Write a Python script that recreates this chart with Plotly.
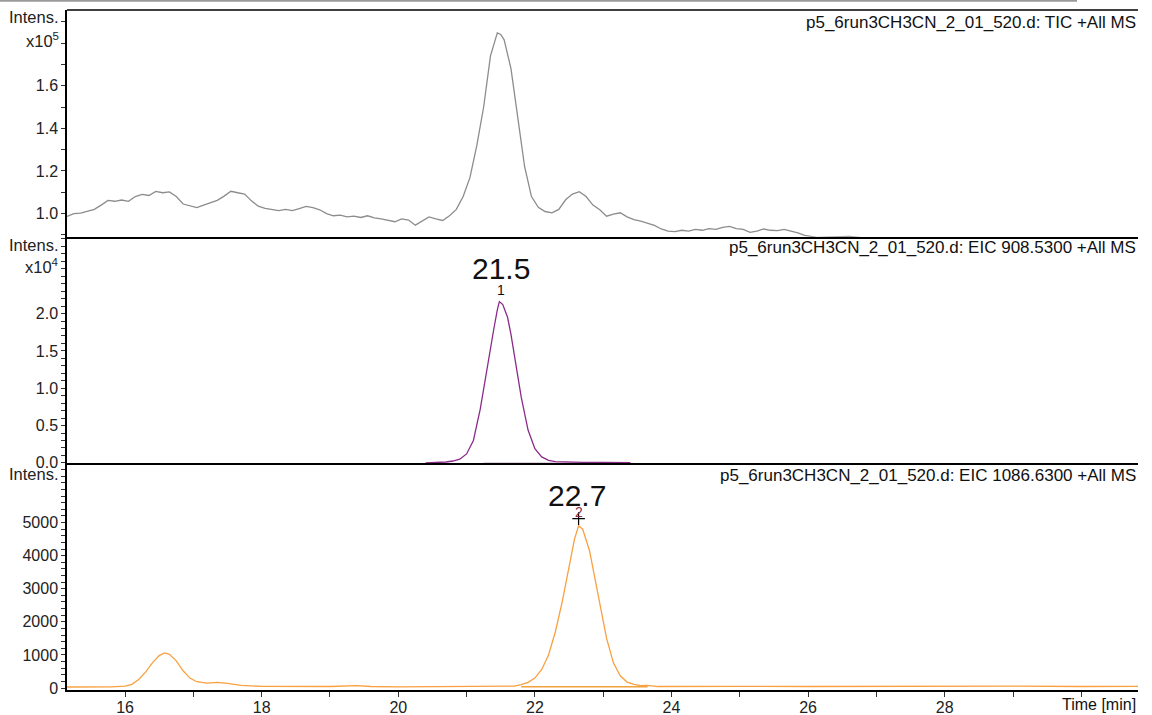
import plotly.graph_objects as go
from plotly.subplots import make_subplots

# ---------------- data ----------------
tic_time = [15.15, 15.25, 15.35, 15.45, 15.55, 15.65, 15.75, 15.85, 15.95, 16.05, 16.15, 16.25, 16.35, 16.45,
            16.55, 16.65, 16.75, 16.85, 16.95, 17.05, 17.15, 17.25, 17.35, 17.45, 17.55, 17.65, 17.75, 17.85,
            17.95, 18.05, 18.15, 18.25, 18.35, 18.45, 18.55, 18.65, 18.75, 18.85, 18.95, 19.05, 19.15, 19.25,
            19.35, 19.45, 19.55, 19.65, 19.75, 19.85, 19.95, 20.05, 20.15, 20.25, 20.35, 20.45, 20.55, 20.65,
            20.75, 20.85, 20.95, 21.05, 21.15, 21.25, 21.35, 21.45, 21.50, 21.55, 21.65, 21.75, 21.85, 21.95,
            22.05, 22.15, 22.25, 22.35, 22.45, 22.55, 22.65, 22.75, 22.85, 22.95, 23.05, 23.15, 23.25, 23.35,
            23.45, 23.55, 23.65, 23.75, 23.85, 23.95, 24.05, 24.15, 24.25, 24.35, 24.45, 24.55, 24.65, 24.75,
            24.85, 24.95, 25.05, 25.15, 25.25, 25.35, 25.45, 25.55, 25.65, 25.75, 25.85, 25.95, 26.05, 26.15,
            26.6, 26.8, 27.0, 31.0]
tic_intens = [0.987, 1.000, 1.002, 1.012, 1.020, 1.040, 1.062, 1.058, 1.064, 1.058, 1.080, 1.090, 1.085, 1.104,
              1.098, 1.102, 1.080, 1.045, 1.035, 1.028, 1.040, 1.052, 1.062, 1.082, 1.105, 1.098, 1.092, 1.060,
              1.035, 1.025, 1.018, 1.014, 1.020, 1.014, 1.024, 1.034, 1.028, 1.018, 1.000, 0.990, 0.993, 0.985,
              0.988, 0.982, 0.990, 0.980, 0.975, 0.968, 0.962, 0.975, 0.970, 0.946, 0.965, 0.985, 0.975, 0.968,
              0.990, 1.020, 1.080, 1.170, 1.320, 1.500, 1.740, 1.848, 1.840, 1.815, 1.680, 1.460, 1.220, 1.080,
              1.030, 1.010, 1.004, 1.020, 1.065, 1.092, 1.103, 1.080, 1.040, 1.018, 0.988, 0.998, 1.004, 0.985,
              0.972, 0.965, 0.955, 0.945, 0.928, 0.918, 0.916, 0.922, 0.918, 0.926, 0.922, 0.930, 0.926, 0.936,
              0.940, 0.930, 0.926, 0.912, 0.918, 0.928, 0.922, 0.920, 0.926, 0.918, 0.910, 0.898, 0.893, 0.888,
              0.893, 0.888, 0.880, 0.880]

eic1_time = [20.4, 20.5, 20.7, 20.8, 20.9, 21.0, 21.1, 21.2, 21.25, 21.3, 21.4, 21.45, 21.48, 21.53,
             21.6, 21.65, 21.7, 21.8, 21.9, 22.0, 22.1, 22.2, 22.3, 22.5, 22.7, 23.0, 23.3, 23.4]
eic1_intens = [0.0, 0.003, 0.012, 0.025, 0.05, 0.12, 0.30, 0.72, 1.00, 1.28, 1.80, 2.05, 2.16, 2.12,
               1.95, 1.72, 1.42, 0.88, 0.44, 0.19, 0.08, 0.035, 0.018, 0.010, 0.008, 0.006, 0.010, 0.004]
eic1_base_time = [21.25, 22.8]
eic1_base_intens = [-0.004, -0.004]

eic2_time = [15.15, 15.5, 15.8, 16.0, 16.1, 16.2, 16.3, 16.4, 16.5, 16.58, 16.65, 16.75, 16.85, 16.95, 17.05,
             17.2, 17.35, 17.5, 17.7, 18.0, 18.5, 19.0, 19.4, 19.6, 20.0, 20.5, 21.0, 21.5, 21.7, 21.8, 21.9,
             22.0, 22.1, 22.2, 22.3, 22.4, 22.5, 22.58, 22.64, 22.7, 22.8, 22.9, 22.97, 23.05, 23.15, 23.25,
             23.35, 23.45, 23.55, 23.65, 23.8, 24.5, 25.0, 26.0, 27.0, 28.0, 29.0, 30.0, 30.9]
eic2_intens = [30, 25, 35, 60, 110, 260, 480, 760, 980, 1060, 1020, 820, 520, 300, 190,
               150, 170, 140, 80, 50, 40, 45, 70, 45, 35, 40, 45, 40, 60, 100, 170,
               300, 560, 1000, 1700, 2600, 3700, 4500, 4900, 4800, 4150, 3100, 2300, 1500, 760, 370,
               180, 110, 70, 80, 45, 55, 50, 45, 55, 50, 55, 45, 50]
eic2_base_time = [21.8, 23.65]
eic2_base_intens = [40, 40]

x_tickvals = [16, 17, 18, 19, 20, 21, 22, 23, 24, 25, 26, 27, 28, 29, 30]
x_ticktext = ["16", "", "18", "", "20", "", "22", "", "24", "", "26", "", "28", "", ""]
y1_tickvals = [0.9, 1.0, 1.1, 1.2, 1.3, 1.4, 1.5, 1.6, 1.7, 1.8, 1.9]
y1_ticktext = ["", "1.0", "", "1.2", "", "1.4", "", "1.6", "", "", ""]
y2_tickvals = [round(0.1 * i, 1) for i in range(0, 31)]
y2_ticktext = [("%.1f" % v) if v in (0.0, 0.5, 1.0, 1.5, 2.0) else "" for v in y2_tickvals]
y3_tickvals = list(range(0, 6800, 200))
y3_ticktext = [str(v) if v % 1000 == 0 and v <= 5000 else "" for v in y3_tickvals]

peak_labels = ["21.5", "22.7"]
peak_numbers = ["1", "2"]
panel_titles = ["p5_6run3CH3CN_2_01_520.d: TIC +All MS",
                "p5_6run3CH3CN_2_01_520.d: EIC 908.5300 +All MS",
                "p5_6run3CH3CN_2_01_520.d: EIC 1086.6300 +All MS"]

# ---------------- figure ----------------
FONT = "Liberation Sans, Arial, sans-serif"
GRAY = "#8c8c8c"
PURPLE = "#8a2b8a"
ORANGE = "#f9a040"

fig = make_subplots(rows=3, cols=1, shared_xaxes=True, vertical_spacing=0)

fig.add_trace(go.Scatter(x=tic_time, y=tic_intens, mode="lines",
                         line=dict(color=GRAY, width=1.3)), row=1, col=1)
fig.add_trace(go.Scatter(x=eic1_base_time, y=eic1_base_intens, mode="lines",
                         line=dict(color="#c9a6c9", width=1.5)), row=2, col=1)
fig.add_trace(go.Scatter(x=eic1_time, y=eic1_intens, mode="lines",
                         line=dict(color=PURPLE, width=1.3)), row=2, col=1)
fig.add_trace(go.Scatter(x=eic2_base_time, y=eic2_base_intens, mode="lines",
                         line=dict(color="#f2a23c", width=1.5)), row=3, col=1)
fig.add_trace(go.Scatter(x=eic2_time, y=eic2_intens, mode="lines",
                         line=dict(color=ORANGE, width=1.3)), row=3, col=1)
fig.add_trace(go.Scatter(x=[22.64], y=[5120], mode="markers",
                         marker=dict(symbol="cross-thin", size=9, line=dict(color="black", width=1.2))),
              row=3, col=1)

xr = [15.15, 30.83]
common_x = dict(range=xr, showgrid=False, zeroline=False, showline=True, automargin=False,
                linecolor="black", tickfont=dict(family=FONT, size=16, color="#222"))
fig.update_xaxes(**common_x, linewidth=2, ticks="", showticklabels=False, row=1, col=1)
fig.update_xaxes(**common_x, linewidth=1.5, ticks="", showticklabels=False, row=2, col=1)
fig.update_xaxes(**common_x, linewidth=1.5, ticks="outside", ticklen=5, tickwidth=1.2,
                 tickcolor="#333", tickmode="array", tickvals=x_tickvals, ticktext=x_ticktext,
                 ticklabelstandoff=-3, showticklabels=True, row=3, col=1)

common_y = dict(showgrid=False, zeroline=False, showline=True, linecolor="black", linewidth=1.5,
                automargin=False, ticks="outside", ticklen=4, tickwidth=1.2, tickcolor="#333",
                tickmode="array", tickfont=dict(family=FONT, size=16, color="#222"))
fig.update_yaxes(**common_y, range=[0.892, 1.955], tickvals=y1_tickvals, ticktext=y1_ticktext, row=1, col=1)
fig.update_yaxes(**common_y, range=[-0.006, 3.03], tickvals=y2_tickvals, ticktext=y2_ticktext, row=2, col=1)
fig.update_yaxes(**common_y, range=[-60, 6790], tickvals=y3_tickvals, ticktext=y3_ticktext, row=3, col=1)

ann = []
# panel titles
for title, yp in zip(panel_titles, [0.982, 0.650, 0.316]):
    ann.append(dict(text=title, xref="paper", yref="paper", x=1.0, y=yp, xanchor="right",
                    yanchor="middle", showarrow=False, font=dict(family=FONT, size=17, color="#111")))
# Intens. labels
for txt, yp in [("Intens.", 0.990), ("x10<sup>5</sup>", 0.956),
                ("Intens.", 0.655), ("x10<sup>4</sup>", 0.624),
                ("Intens.", 0.318)]:
    ann.append(dict(text=txt, xref="paper", yref="paper", x=0, y=yp, xanchor="right", xshift=-6,
                    yanchor="middle", showarrow=False, font=dict(family=FONT, size=16.5, color="#222")))
# Time label
ann.append(dict(text="Time [min]", xref="paper", yref="paper", x=1.0, y=-0.022, xanchor="right",
                yanchor="middle", showarrow=False, font=dict(family=FONT, size=16, color="#111")))
# peak labels
ann.append(dict(text=peak_labels[0], xref="x2", yref="y2", x=21.5, y=2.61, showarrow=False,
                font=dict(family=FONT, size=30, color="#111")))
ann.append(dict(text=peak_numbers[0], xref="x2", yref="y2", x=21.5, y=2.32, showarrow=False,
                font=dict(family=FONT, size=14, color="#111")))
ann.append(dict(text=peak_labels[1], xref="x3", yref="y3", x=22.62, y=5820, showarrow=False,
                font=dict(family=FONT, size=30, color="#111")))
ann.append(dict(text=peak_numbers[1], xref="x3", yref="y3", x=22.64, y=5330, showarrow=False,
                font=dict(family=FONT, size=14, color="#8a2b4a")))

shapes = [
    dict(type="line", xref="paper", yref="paper", x0=-67 / 1071, x1=(1077 - 67) / 1071,
         y0=1.0135, y1=1.0135, line=dict(color="#9a9a9a", width=2)),
    dict(type="line", xref="paper", yref="paper", x0=0, x1=1, y0=1, y1=1,
         line=dict(color="black", width=1.5)),
]

fig.update_layout(width=1152, height=715, margin=dict(l=67, r=14, t=10, b=25, autoexpand=False),
                  plot_bgcolor="white", paper_bgcolor="white", showlegend=False,
                  annotations=ann, shapes=shapes)

fig.write_html("out.html", config={"displayModeBar": False},
               post_script="document.body.style.margin='0';")
